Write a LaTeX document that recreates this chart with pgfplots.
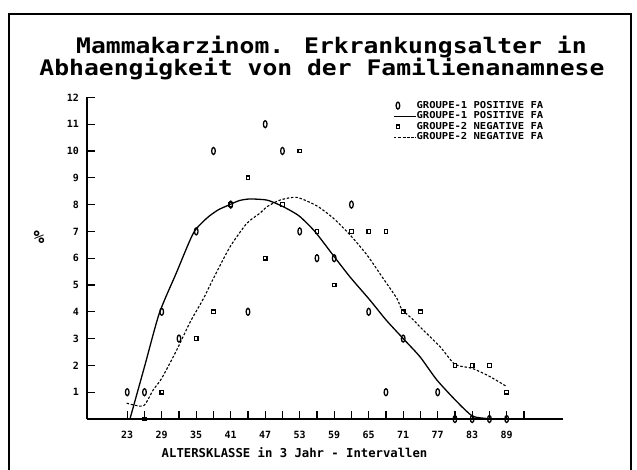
\documentclass[border=0pt]{standalone}
\usepackage{fontspec}
\setmainfont{DejaVu Sans Mono}
\usepackage{pgfplots}
\pgfplotsset{compat=1.18}
\usepackage{pgfplotstable}

\pgfplotsset{
  linelegend/.style={legend image code/.code={\draw[##1] plot coordinates {(0bp,0bp) (22bp,0bp)};}},
  marklegend/.style={legend image code/.code={\path[draw=none,fill=none] (0bp,0bp) -- (22bp,0bp); \draw[##1] plot coordinates {(4bp,0bp)};}},
}
\newcommand{\legtxt}[1]{\scalebox{1.1}[1]{#1}}

\pgfplotstableread{
age val
23 1
26 1
29 4
32 3
35 7
38 10
41 8
44 4
47 11
50 10
53 7
56 6
59 6
62 8
65 4
68 1
71 3
77 1
80 0
83 0
86 0
89 0
}\groupone

\pgfplotstableread{
age val
26 0
29 1
35 3
38 4
41 8
44 9
47 6
50 8
53 10
56 7
59 5
62 7
65 7
68 7
71 4
74 4
80 2
83 2
86 2
89 1
}\grouptwo

\pgfplotstableread{
age val
23.47 0
26.0 1.95
28.57 3.94
31.5 5.43
34.49 6.93
36.82 7.49
38.8 7.80
40.75 7.99
42.5 8.15
44.35 8.21
47.26 8.17
49.45 7.99
51.2 7.80
53.05 7.55
55.66 6.99
58.85 6.10
61.75 5.30
65.2 4.44
68.0 3.70
71.0 3.00
73.93 2.32
76.84 1.46
80.32 0.65
83.04 0.11
85.5 0.02
}\fitone

\pgfplotstableread{
age val
22.9 0.59
25.8 0.49
27.5 1.08
29.0 1.52
31.6 2.57
33.9 3.60
36.2 4.47
38.0 5.25
40.9 6.43
43.8 7.30
46.1 7.68
47.3 7.92
49.6 8.17
52.5 8.27
56.0 7.95
58.8 7.50
61.75 6.87
64.7 6.12
67.5 5.25
69.9 4.50
70.75 4.10
72.8 3.69
73.9 3.44
77.4 2.70
80.0 2.04
83.0 1.89
86.1 1.58
89.0 1.21
}\fittwo

\begin{document}
\begin{tikzpicture}[x=1bp,y=1bp]
\useasboundingbox (0,0) rectangle (637,470);
% frame
\draw[line width=2.4bp] (9,0) -- (9,456) -- (631,456) -- (631,0);
% title
\node[font=\bfseries\fontsize{21.5}{22}\selectfont, anchor=base west, inner sep=0pt] at (76,416) {\scalebox{1.153}[1]{Mammakarzinom. Erkrankungsalter in}};
\node[font=\bfseries\fontsize{21.5}{22}\selectfont, anchor=base west, inner sep=0pt] at (39.3,394.5) {\scalebox{1.153}[1]{Abhaengigkeit von der Familienanamnese}};

\begin{axis}[
  at={(87bp,51bp)}, anchor=south west,
  scale only axis, width=476bp, height=321.6bp,
  xmin=16, xmax=98.8, ymin=0, ymax=12,
  axis x line=bottom, axis y line=left,
  axis line style={-, line width=1.8bp},
  tick align=inside, major tick length=8bp,
  tick style={line width=1.2bp, black},
  xtick={23,26,...,92},
  xticklabels={23,,29,,35,,41,,47,,53,,59,,65,,71,,77,,83,,89,{}},
  ytick={1,2,...,12},
  /pgf/number format/assume math mode=true,
  tick label style={font=\bfseries\fontsize{10}{10}\selectfont, inner sep=0pt},
  xticklabel style={anchor=north, yshift=-12bp},
  yticklabel style={anchor=east, xshift=-8bp},
  xlabel={ALTERSKLASSE in 3 Jahr - Intervallen},
  xlabel style={at={(axis description cs:0.436,-0.104)}, anchor=center, font=\bfseries\fontsize{12.3}{12.3}\selectfont, inner sep=0pt},
  clip=false,
  legend cell align=left,
  legend style={at={(axis description cs:0.643,0.99)}, anchor=north west, draw=none, fill=none, inner sep=0pt,
    font=\bfseries\fontsize{9.6}{9.6}\selectfont,
    nodes={inner sep=0pt, text height=7.2bp, text depth=2.4bp}, row sep=1bp},
  linelegend,
]
\addplot[only marks, mark=o, mark size=3.5bp, mark options={xscale=0.52, line width=1.3bp, solid, black}, marklegend]
  table[x=age, y=val] {\groupone};
\addlegendentry{\legtxt{GROUPE-1 POSITIVE FA}}
\addplot[black, line width=1.3bp, smooth, tension=0.4, no marks] table[x=age, y=val] {\fitone};
\addlegendentry{\legtxt{GROUPE-1 POSITIVE FA}}
\addplot[only marks, mark=square, mark size=1.8bp, mark options={line width=1.2bp, solid, black}, marklegend]
  table[x=age, y=val] {\grouptwo};
\addlegendentry{\legtxt{GROUPE-2 NEGATIVE FA}}
\addplot[black, line width=1.1bp, dash pattern=on 2.5bp off 1.8bp, smooth, tension=0.4, no marks] table[x=age, y=val] {\fittwo};
\addlegendentry{\legtxt{GROUPE-2 NEGATIVE FA}}
\node[font=\bfseries\fontsize{18}{18}\selectfont, inner sep=0pt] at (rel axis cs:-0.101,0.566) {\%};
\end{axis}
\end{tikzpicture}
\end{document}
